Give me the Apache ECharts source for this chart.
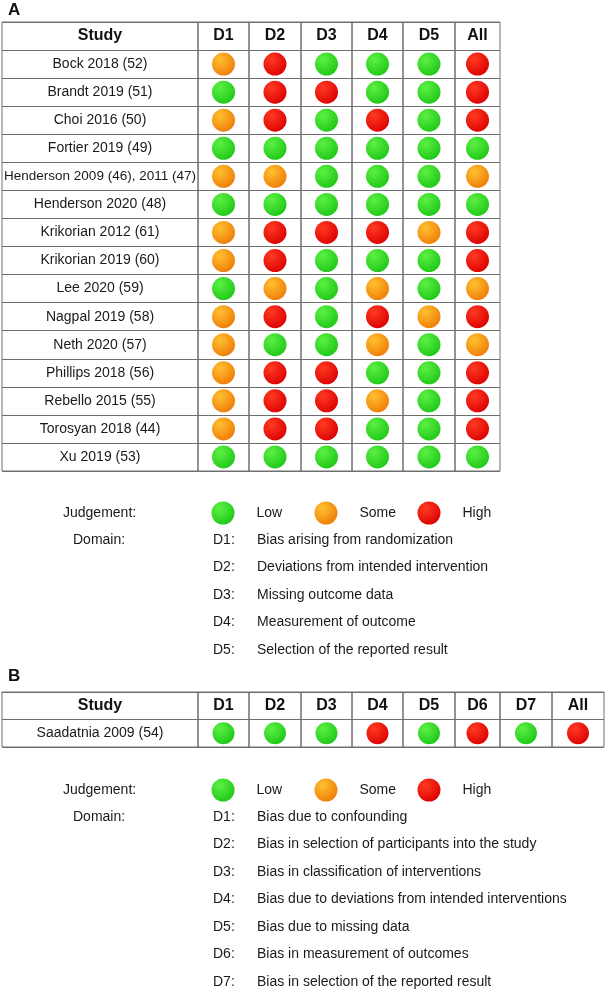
<!DOCTYPE html>
<html>
<head>
<meta charset="utf-8">
<script src="https://cdn.jsdelivr.net/npm/echarts@6/dist/echarts.min.js"></script>
<style>
html,body{margin:0;padding:0;background:#fff;}
#chart{width:605px;height:992px;}
</style>
</head>
<body>
<div id="chart"></div>
<script>
// ---------------- DATA ----------------
const levels = ['Low', 'Some', 'High'];

const columnsA = ['D1', 'D2', 'D3', 'D4', 'D5', 'All'];
const studiesA = [
  'Bock 2018 (52)', 'Brandt 2019 (51)', 'Choi 2016 (50)', 'Fortier 2019 (49)',
  'Henderson 2009 (46), 2011 (47)', 'Henderson 2020 (48)', 'Krikorian 2012 (61)',
  'Krikorian 2019 (60)', 'Lee 2020 (59)', 'Nagpal 2019 (58)', 'Neth 2020 (57)',
  'Phillips 2018 (56)', 'Rebello 2015 (55)', 'Torosyan 2018 (44)', 'Xu 2019 (53)'
];
const judgementsA = [
  ['Some', 'High', 'Low', 'Low', 'Low', 'High'],
  ['Low', 'High', 'High', 'Low', 'Low', 'High'],
  ['Some', 'High', 'Low', 'High', 'Low', 'High'],
  ['Low', 'Low', 'Low', 'Low', 'Low', 'Low'],
  ['Some', 'Some', 'Low', 'Low', 'Low', 'Some'],
  ['Low', 'Low', 'Low', 'Low', 'Low', 'Low'],
  ['Some', 'High', 'High', 'High', 'Some', 'High'],
  ['Some', 'High', 'Low', 'Low', 'Low', 'High'],
  ['Low', 'Some', 'Low', 'Some', 'Low', 'Some'],
  ['Some', 'High', 'Low', 'High', 'Some', 'High'],
  ['Some', 'Low', 'Low', 'Some', 'Low', 'Some'],
  ['Some', 'High', 'High', 'Low', 'Low', 'High'],
  ['Some', 'High', 'High', 'Some', 'Low', 'High'],
  ['Some', 'High', 'High', 'Low', 'Low', 'High'],
  ['Low', 'Low', 'Low', 'Low', 'Low', 'Low']
];
const domainsA = [
  'Bias arising from randomization',
  'Deviations from intended intervention',
  'Missing outcome data',
  'Measurement of outcome',
  'Selection of the reported result'
];

const columnsB = ['D1', 'D2', 'D3', 'D4', 'D5', 'D6', 'D7', 'All'];
const studiesB = ['Saadatnia 2009 (54)'];
const judgementsB = [
  ['Low', 'Low', 'Low', 'High', 'Low', 'High', 'Low', 'High']
];
const domainsB = [
  'Bias due to confounding',
  'Bias in selection of participants into the study',
  'Bias in classification of interventions',
  'Bias due to deviations from intended interventions',
  'Bias due to missing data',
  'Bias in measurement of outcomes',
  'Bias in selection of the reported result'
];

const headerKey = 'Study';

// ---------------- LAYOUT / STYLE ----------------
const FONT = '"Liberation Sans", Arial, sans-serif';
const TEXT = '#1a1a1a';
const LINE = '#6e6e6e';

const panels = [
  { tag: 'A', columns: columnsA, studies: studiesA, judgements: judgementsA, domains: domainsA,
    edges: [2, 198, 249, 301, 352, 403, 455, 500], top: 22, bottom: 471,
    tagY: 10, legendY: 513, domainY: 540, symbol: 23 },
  { tag: 'B', columns: columnsB, studies: studiesB, judgements: judgementsB, domains: domainsB,
    edges: [2, 198, 249, 301, 352, 403, 455, 500, 552, 604], top: 692, bottom: 747,
    tagY: 676, legendY: 790, domainY: 817, symbol: 22 }
];
const domainStep = 27.5;
const legendLefts = [211.5, 314.5, 417.5];

const palette = {
  Low:  ['#5cf044', '#1fc818'],
  Some: ['#ffc030', '#ef7d08'],
  High: ['#ff3a22', '#dc0202']
};
function fill(level) {
  return new echarts.graphic.RadialGradient(0.35, 0.3, 0.75, [
    { offset: 0, color: palette[level][0] },
    { offset: 1, color: palette[level][1] }
  ]);
}

const measureCtx = document.createElement('canvas').getContext('2d');
function fitSize(text, base, maxW) {
  measureCtx.font = base + 'px ' + FONT;
  const w = measureCtx.measureText(text).width;
  return w > maxW ? Math.floor(base * maxW / w * 10) / 10 : base;
}

const plainLabel = { textBorderWidth: 0, textBorderColor: 'transparent', textShadowBlur: 0 };

const grids = [], xAxes = [], yAxes = [], series = [], legends = [], graphics = [];

panels.forEach(p => {
  const rowsCats = [headerKey].concat(p.studies);
  const height = p.bottom - p.top;
  const colNames = [headerKey].concat(p.columns);
  colNames.forEach((col, ci) => {
    const gi = grids.length;
    const left = p.edges[ci], right = p.edges[ci + 1];
    grids.push({
      left: left, top: p.top, width: right - left, height: height,
      show: true, borderColor: LINE, borderWidth: 1, backgroundColor: 'transparent',
      containLabel: false
    });
    xAxes.push({
      type: 'category', gridIndex: gi, data: [col],
      axisLine: { show: false }, axisTick: { show: false }, axisLabel: { show: false },
      splitLine: { show: false }
    });
    yAxes.push({
      type: 'category', gridIndex: gi, data: rowsCats, inverse: true,
      axisLine: { show: false }, axisTick: { show: false }, axisLabel: { show: false },
      splitLine: { show: true, interval: 0, lineStyle: { color: LINE, width: 1 } }
    });
    series.push({
      type: 'scatter', xAxisIndex: gi, yAxisIndex: gi, silent: true,
      symbolSize: 0, data: [[col, headerKey]], itemStyle: { opacity: 1 },
      label: Object.assign({ show: true, position: 'inside', formatter: col,
        fontFamily: FONT, fontSize: 16, fontWeight: 'bold', color: '#111' }, plainLabel)
    });
    if (ci === 0) {
      const maxW = right - left - 4;
      p.studies.forEach(s => {
        series.push({
          type: 'scatter', xAxisIndex: gi, yAxisIndex: gi, silent: true,
          symbolSize: 0, data: [[col, s]], itemStyle: { opacity: 1 },
          label: Object.assign({ show: true, position: 'inside', formatter: s,
            fontFamily: FONT, fontSize: fitSize(s, 14, maxW), color: TEXT }, plainLabel)
        });
      });
    } else {
      const j = ci - 1;
      levels.forEach(level => {
        const pts = [];
        p.studies.forEach((s, si) => {
          if (p.judgements[si][j] === level) pts.push([col, s]);
        });
        series.push({
          type: 'scatter', name: level, xAxisIndex: gi, yAxisIndex: gi, silent: true,
          symbol: 'circle', symbolSize: p.symbol, data: pts,
          itemStyle: { color: fill(level), opacity: 1 }
        });
      });
    }
  });

  levels.forEach((level, li) => {
    legends.push({
      data: [level], orient: 'horizontal', left: legendLefts[li], top: p.legendY - 11.5, padding: 0,
      icon: 'circle', itemWidth: 23, itemHeight: 23, itemGap: 0, selectedMode: false,
      itemStyle: { opacity: 1 },
      textStyle: { fontFamily: FONT, fontSize: 14, color: TEXT, padding: [0, 0, 0, 17] }
    });
  });

  graphics.push({ type: 'text', x: 8, y: p.tagY,
    style: { text: p.tag, fontFamily: FONT, fontSize: 17, fontWeight: 'bold', fill: '#111',
      verticalAlign: 'middle' } });
  graphics.push({ type: 'text', x: 63, y: p.legendY,
    style: { text: 'Judgement:', fontFamily: FONT, fontSize: 14, fill: TEXT, verticalAlign: 'middle' } });
  graphics.push({ type: 'text', x: 73, y: p.domainY,
    style: { text: 'Domain:', fontFamily: FONT, fontSize: 14, fill: TEXT, verticalAlign: 'middle' } });
  p.domains.forEach((d, i) => {
    const y = p.domainY + i * domainStep;
    graphics.push({ type: 'text', x: 213, y: y,
      style: { text: p.columns[i] + ':', fontFamily: FONT, fontSize: 14, fill: TEXT, verticalAlign: 'middle' } });
    graphics.push({ type: 'text', x: 257, y: y,
      style: { text: d, fontFamily: FONT, fontSize: 14, fill: TEXT, verticalAlign: 'middle' } });
  });
});

const chart = echarts.init(document.getElementById('chart'), null, { renderer: 'canvas' });
chart.setOption({
  animation: false,
  backgroundColor: '#ffffff',
  tooltip: { show: false },
  grid: grids,
  xAxis: xAxes,
  yAxis: yAxes,
  legend: legends,
  series: series,
  graphic: graphics
});
</script>
</body>
</html>
